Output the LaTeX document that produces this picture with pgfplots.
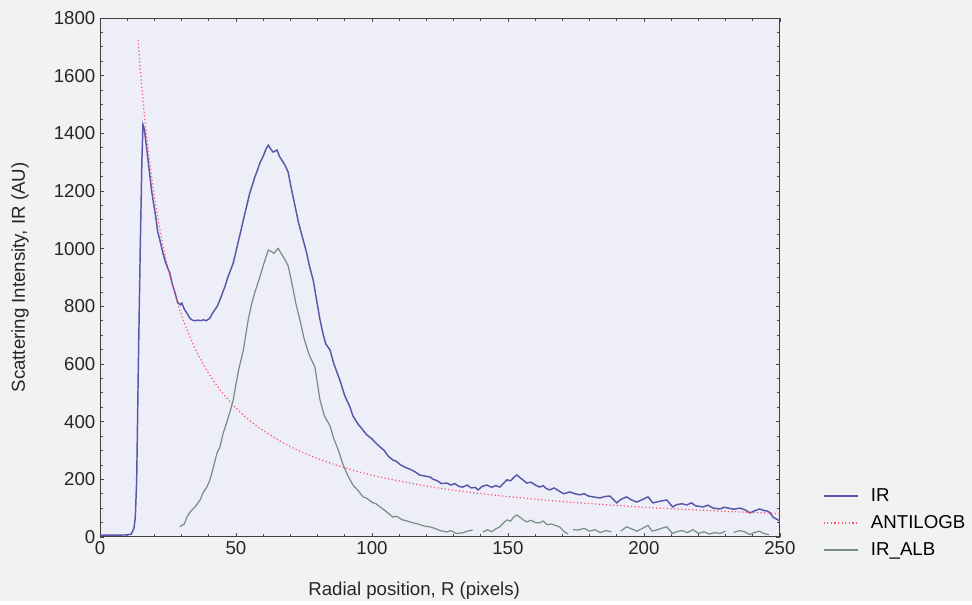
\documentclass[border=0pt]{standalone}
\usepackage{fontspec}
\setmainfont{Liberation Sans}
\usepackage{pgfplots}
\pgfplotsset{compat=1.18}
\definecolor{irblue}{RGB}{90,86,170}
\definecolor{antired}{RGB}{255,80,110}
\definecolor{albgray}{RGB}{118,142,130}
\definecolor{pagebg}{RGB}{242,242,242}
\definecolor{axbg}{RGB}{238,238,248}
\begin{document}
\begin{tikzpicture}[x=1pt,y=1pt]
\fill[pagebg] (-75,-48) rectangle (654,402.75);
\begin{axis}[
 at={(0,0)}, anchor=south west,
 scale only axis, width=510pt, height=389.25pt,
 xmin=0, xmax=250, ymin=0, ymax=1800,
 xtick={0,50,...,250}, ytick={0,200,...,1800},
 minor x tick num=4, minor y tick num=3,
 tick align=inside, major tick length=3pt, minor tick length=2pt,
 axis background/.style={fill=axbg},
 axis line style={draw=black!75, line width=0.7pt},
 every tick/.style={black!70, line width=0.5pt},
 tick label style={font=\fontsize{14}{16}\selectfont, text=black!85},
 /pgf/number format/assume math mode=true,
 /pgf/number format/set thousands separator={},
 label style={font=\fontsize{14}{16}\selectfont, text=black!85},
 xlabel={Radial position, R (pixels)},
 ylabel={Scattering Intensity, IR (AU)},
 xlabel style={at={(axis description cs:0.462,-0.104)}, anchor=center},
 ylabel style={at={(axis description cs:-0.1176,0.5)}, anchor=center},
 unbounded coords=jump,
 legend cell align=left,
 legend style={at={(rel axis cs:1,0)}, anchor=south west, xshift=29pt, yshift=-19.5pt,
   draw=none, fill=none, font=\fontsize{14}{16}\selectfont, row sep=5pt},
 legend image code/.code={\draw[#1] (0pt,0pt) -- (26pt,0pt); \path (33pt,0pt);},
]
\addplot[irblue, line width=1.1pt] coordinates {
(0,6) (5,6) (10,7) (11.5,10) (12.5,30) (13,70) (13.5,200) (14.1,590) (14.8,1000) (15.4,1300) (15.8,1430) (16.3,1415) (17,1360) (18,1280) (19,1200) (19.5,1169) (20.5,1110) (21.2,1060) (22,1030) (23,990) (24,955) (25,930) (25.7,915) (26.5,880) (27.6,846) (28.5,815) (29.5,805) (30.1,811) (31,790) (32,776) (33,759) (34,752) (35,750) (36,752) (37,750) (38,753) (39,750) (40,756) (40.4,759) (41,770) (42,785) (43,798) (44.1,822) (45,845) (46,870) (47,900) (48,925) (49,950) (50,990) (51,1030) (52,1070) (52.7,1099) (54,1150) (55,1190) (55.8,1214) (57,1250) (58,1275) (58.8,1297) (60,1320) (61,1345) (61.9,1359) (62.8,1345) (63.7,1335) (65.1,1342) (66,1320) (67,1305) (68,1290) (69.2,1265) (70,1225) (71,1180) (72,1135) (73,1090) (74.7,1030) (76,985) (77,940) (78.4,891) (79.5,830) (80.9,753) (82,705) (83,670) (84.6,648) (86,600) (88.2,544) (90,490) (91.9,451) (93,420) (95,390) (96.7,371) (98,355) (100,340) (101.5,325) (103,312) (104.5,300) (106,280) (107.7,267) (109,262) (110.5,250) (112.8,239) (114,235) (116,225) (117.5,215) (119,212) (121.3,208) (122.5,200) (124,195) (125.5,185) (127.5,187) (129,180) (130.5,185) (132,175) (133.4,173) (135,180) (136.5,170) (138,172) (139,163) (140.5,175) (142.3,180) (144,172) (145.5,178) (147,173) (148.3,185) (149.6,198) (151,195) (152,205) (153.3,215) (154.5,205) (155.5,198) (156.9,187) (158.5,190) (160,180) (161.7,173) (163,178) (164,168) (165.4,163) (167,170) (169,158) (170.5,150) (172.8,156) (174.5,150) (176.5,146) (178,150) (179.5,142) (181.3,139) (183.8,135) (185.5,140) (187.5,142) (189,128) (190,118) (191.5,130) (193.6,139) (195.5,128) (197.4,121) (199.5,130) (201.5,139) (203.3,118) (205,122) (206.5,125) (208.4,128) (210.6,104) (212,112) (214,115) (215.8,111) (217.5,118) (219,108) (221.7,104) (223.5,110) (225.5,100) (227.9,97) (229.5,103) (231,100) (233,96) (235.3,100) (237,95) (239,83) (240.5,90) (242.6,97) (244,92) (245.2,90) (246.3,85) (247.4,69) (249.3,59) (250,55)
};
\addlegendentry{IR}
\addplot[antired, line width=0.9pt, dash pattern=on 0.9pt off 1.8pt, smooth] coordinates {
(14,1724) (15,1602) (16,1496) (17,1403) (18,1321) (20,1181) (22,1068) (24,974) (26,894) (28,827) (30,769) (33,695) (36,634) (40,567) (45,500) (50,447) (55,404) (60,369) (70,313) (80,272) (90,240) (100,214) (115,185) (130,162) (150,140) (175,119) (200,103) (225,91) (250,81)
};
\addlegendentry{ANTILOGB}
\addplot[albgray, line width=0.9pt] coordinates {
(29.4,35) (30,40) (31,45) (32,69) (33,85) (34,95) (35,105) (36.8,128) (38,155) (39.3,173) (40.5,200) (41.5,235) (43,290) (44.1,312) (45.3,360) (46.7,400) (48,440) (49,475) (50,530) (51,580) (52.7,648) (54.5,753) (55.8,810) (57,850) (58.8,902) (60,940) (61,970) (61.9,995) (63,990) (64,984) (65.5,1001) (66.5,985) (68,962) (69.2,940) (70,905) (71,860) (72,810) (73.5,753) (75,690) (76,659) (77,630) (79,590) (80.9,475) (82.5,420) (84.6,385) (86,340) (87.6,302) (89.4,250) (91,215) (93,180) (95,160) (96.7,139) (98,135) (100,120) (101.5,115) (103,104) (105,90) (107.7,69) (109,72) (111,60) (113,55) (115,49) (117,45) (119,38) (121.3,35) (123,30) (125,22) (127.5,17) (129,22) (131,12) (133.4,14) (135,20) (137,24) (138.5,nan) (140.8,17) (142.5,25) (144,18) (145.5,28) (147,35) (148.5,50) (149.6,59) (151,55) (152,68) (153.3,76) (154.5,68) (155.5,60) (156.9,52) (158.5,58) (160,50) (161.7,49) (163,55) (164.5,42) (166,45) (168,38) (169,35) (170.5,20) (172,10) (173,nan) (174,25) (176,24) (178,30) (180,20) (182,25) (184,15) (186,22) (188,18) (189.5,nan) (191.5,20) (193.6,35) (195.5,28) (197.4,20) (199.5,30) (201.5,40) (203,20) (205,25) (206.5,30) (208.4,35) (210.5,12) (212,18) (214,22) (216,15) (218,25) (220,12) (222,18) (224,10) (226,15) (228,12) (230,20) (231.5,nan) (233,15) (235,22) (237,18) (239,8) (240.5,15) (242.5,20) (244,12) (246,8)
};
\addlegendentry{IR\_ALB}
\end{axis}
\end{tikzpicture}
\end{document}
